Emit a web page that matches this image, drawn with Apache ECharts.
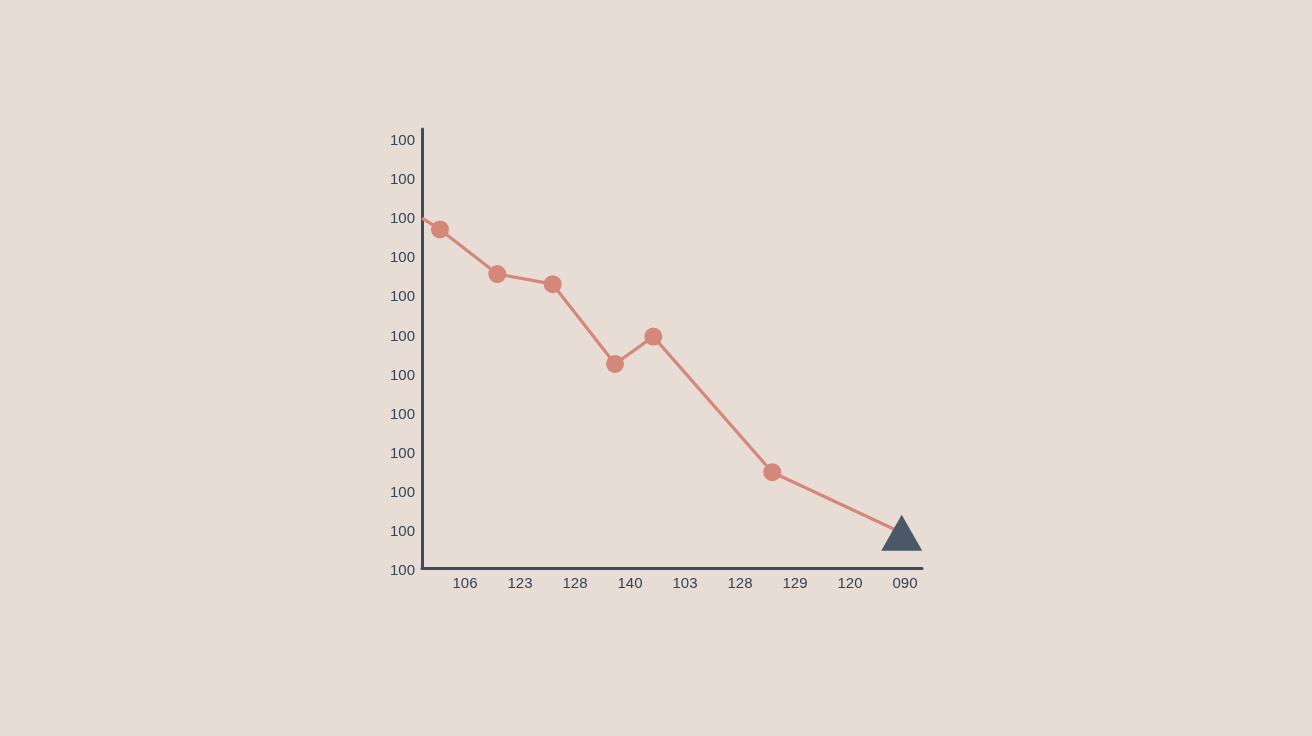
<!DOCTYPE html>
<html>
<head>
<meta charset="utf-8">
<script src="https://cdn.jsdelivr.net/npm/echarts@6/dist/echarts.min.js"></script>
<style>
html,body{margin:0;padding:0;background:#e7ddd5;}
#c{width:1312px;height:736px;}
</style>
</head>
<body>
<div id="c"></div>
<script>
// Tick labels
var xLabels = ['106', '123', '128', '140', '103', '128', '129', '120', '090'];
var yLabels = ['100', '100', '100', '100', '100', '100', '100', '100', '100', '100', '100', '100'];
// Series values (x positions in label units, y values in tick units)
var lineX = [0.22, 0.545, 1.587, 2.595, 3.727, 4.424, 6.587, 8.94];
var lineY = [8.95, 8.66, 7.52, 7.26, 5.22, 5.92, 2.45, 0.90];
var endIndex = 7;

var data = lineX.map(function (x, i) {
  var item = { value: [x, lineY[i]] };
  if (i === 0) item.symbol = 'none';
  if (i === endIndex) {
    item.symbol = 'triangle';
    item.symbolSize = [41, 36];
    item.itemStyle = { color: '#4a5868' };
  }
  return item;
});

var chart = echarts.init(document.getElementById('c'));
chart.setOption({
  backgroundColor: '#e7ddd5',
  animation: false,
  grid: { left: 422, right: 390, top: 129, bottom: 168 },
  xAxis: {
    type: 'value',
    min: 0.2182,
    max: 9.309,
    splitLine: { show: false },
    axisLine: { show: true, lineStyle: { color: '#3e4d5e', width: 3 } },
    axisTick: { show: false },
    axisLabel: {
      customValues: [1, 2, 3, 4, 5, 6, 7, 8, 9],
      formatter: function (v) { return xLabels[Math.round(v) - 1] || ''; },
      color: '#334358',
      fontSize: 15,
      fontFamily: 'Liberation Sans, Arial, sans-serif',
      margin: 8
    }
  },
  yAxis: {
    type: 'value',
    min: 0,
    max: 11.23,
    interval: 1,
    splitLine: { show: false },
    axisLine: { show: true, lineStyle: { color: '#3e4d5e', width: 3 } },
    axisTick: { show: false },
    axisLabel: {
      formatter: function (v) {
        return Math.abs(v - Math.round(v)) < 1e-6 ? '{a|' + (yLabels[Math.round(v)] || '') + '}' : '';
      },
      rich: {
        a: {
          color: '#334358',
          fontSize: 15,
          fontFamily: 'Liberation Sans, Arial, sans-serif',
          padding: [6, 0, 0, 0]
        }
      },
      color: '#334358',
      fontSize: 15,
      fontFamily: 'Liberation Sans, Arial, sans-serif',
      margin: 7
    }
  },
  series: [{
    type: 'line',
    data: data,
    symbol: 'circle',
    symbolSize: 18,
    lineStyle: { color: '#d5877a', width: 3.2 },
    itemStyle: { color: '#d5877a' },
    z: 3
  }]
});
</script>
</body>
</html>
